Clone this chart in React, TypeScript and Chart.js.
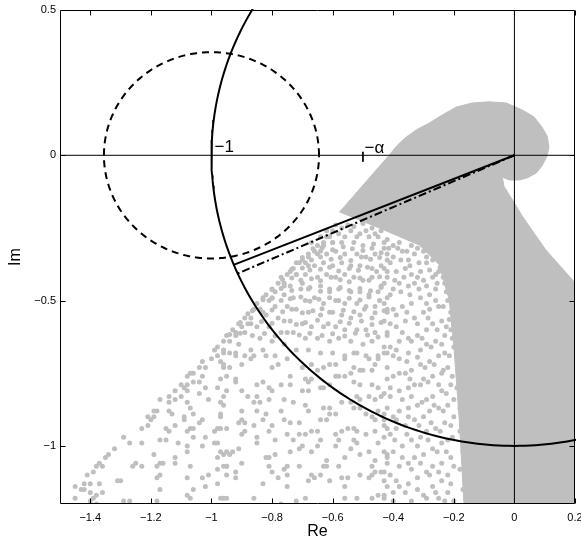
import React, { useEffect, useRef } from 'react';
import { Chart, registerables } from 'chart.js';

Chart.register(...registerables);

const FONT = '"Liberation Sans", Arial, Helvetica, sans-serif';
const GRAY = 'rgb(191,191,191)';

// ---- axes ----
const xRange = [-1.5, 0.2];
const yRange = [-1.2, 0.5];
const xTicks = [-1.4, -1.2, -1, -0.8, -0.6, -0.4, -0.2, 0, 0.2];
const yTicks = [-1, -0.5, 0, 0.5];
const xTitle = 'Re';
const yTitle = 'Im';

// ---- reference geometry ----
const unitCircle = { cx: 0, cy: 0, r: 1 };
const dashedCircle = { cx: -1, cy: 0, r: 0.355 };
const solidRay = [[0, 0], [-0.927, -0.377]];
const dashDotRay = [[0, 0], [-0.914, -0.407]];
const alphaTick = [[-0.5, 0.012], [-0.5, -0.022]];
const realAxis = [[-1.5, 0], [0.2, 0]];
const imagAxis = [[0, -1.2], [0, 0.5]];
const annotationText = ['−1', '−α'];
const annotationX = [-0.99, -0.495];
const annotationY = [0.011, 0.008];

// ---- dense part of the point cloud (outline) ----
const denseRegion = [
  [-0.413, 0.001], [-0.386, 0.035], [-0.357, 0.063], [-0.32, 0.09], [-0.281, 0.111],
  [-0.238, 0.139], [-0.192, 0.166], [-0.139, 0.18], [-0.083, 0.184], [-0.027, 0.18],
  [0.026, 0.156], [0.065, 0.132], [0.091, 0.097], [0.108, 0.066], [0.114, 0.029],
  [0.108, -0.002], [0.091, -0.037], [0.072, -0.061], [0.042, -0.078], [0.016, -0.085],
  [-0.017, -0.085], [-0.04, -0.075], [-0.034, -0.108], [-0.006, -0.154], [0.027, -0.211],
  [0.065, -0.268], [0.104, -0.326], [0.197, -0.435], [0.21, -0.435], [0.21, -1.21],
  [-0.166, -1.21], [-0.182, -0.911], [-0.199, -0.67], [-0.215, -0.498], [-0.248, -0.377],
  [-0.314, -0.309], [-0.446, -0.25], [-0.577, -0.195], [-0.413, 0.001],
];

// ---- individual points of the sparse part of the cloud ----
const sparsePoints = [
  [-0.95,-0.62],[-0.98,-0.66],[-0.99,-0.67],[-0.96,-0.64],[-0.98,-0.69],[-0.94,-0.68],[-1.00,-0.70],[-1.02,-0.73],[-1.03,-0.71],[-1.04,-0.73],[-1.06,-0.75],[-1.07,-0.75],[-1.08,-0.76],[-1.03,-0.76],[-1.04,-0.78],[-1.06,-0.78],[-1.08,-0.79],[-1.09,-0.80],[-1.10,-0.79],[-1.12,-0.81],[-1.10,-0.83],[-1.12,-0.84],[-1.14,-0.85],[-1.14,-0.83],[-1.17,-0.84],[-1.18,-0.88],[-1.19,-0.90],[-1.20,-0.91],[-1.21,-0.90],[-1.21,-0.93],[-1.23,-0.94],[-1.19,-0.88],[-0.97,-0.71],[-0.96,-0.73],[-0.97,-0.77],[-0.95,-0.76],[-0.98,-0.80],[-1.01,-0.84],[-1.02,-0.80],[-1.04,-0.82],[-1.08,-0.81],[-1.08,-0.85],[-1.07,-0.87],[-1.06,-0.89],[-1.04,-0.92],[-1.03,-0.91],[-1.06,-0.94],[-1.07,-0.94],[-1.08,-0.95],[-1.09,-0.91],[-1.09,-0.90],[-1.13,-0.89],[-1.14,-0.88],[-1.12,-0.93],[-1.14,-0.95],[-1.15,-0.94],[-1.17,-0.98],[-1.15,-0.98],[-1.11,-0.99],[-1.08,-1.00],[-1.08,-1.02],[-1.06,-0.97],[-1.03,-1.00],[-1.02,-0.97],[-0.99,-0.99],[-0.98,-0.99],[-0.97,-0.94],[-0.98,-0.94],[-0.99,-0.95],[-0.97,-0.90],[-0.96,-0.86],[-0.96,-0.83],[-0.97,-1.02],[-0.98,-1.04],[-0.96,-1.03],[-0.95,-1.07],[-0.98,-1.08],[-1.01,-1.10],[-1.03,-1.11],[-1.02,-1.14],[-0.98,-1.13],[-0.95,-1.10],[-1.07,-1.07],[-1.08,-1.11],[-1.06,-1.15],[-1.08,-1.17],[-1.07,-1.18],[-1.12,-1.04],[-1.12,-1.06],[-1.16,-1.06],[-1.17,-1.06],[-1.19,-1.03],[-1.18,-1.07],[-1.18,-1.11],[-1.17,-1.10],[-1.17,-1.15],[-1.18,-1.19],[-1.23,-1.07],[-1.26,-1.07],[-1.25,-1.06],[-1.27,-0.99],[-1.29,-0.97],[-1.23,-0.99],[-1.32,-1.01],[-1.34,-1.03],[-1.35,-1.04],[-1.37,-1.06],[-1.38,-1.07],[-1.39,-1.09],[-1.41,-1.10],[-1.42,-1.13],[-1.45,-1.14],[-1.43,-1.15],[-1.42,-1.15],[-1.40,-1.13],[-1.40,-1.16],[-1.39,-1.18],[-1.38,-1.17],[-1.36,-1.16],[-1.37,-1.13],[-1.36,-1.07],[-1.45,-1.18],[-1.40,-1.19],[-1.38,-1.20],[-1.29,-1.19],[-1.27,-1.19],[-1.31,-1.12],[-1.30,-1.12],[-0.97,-1.18],[-0.95,-1.18],
  [-0.96,-0.68],[-0.92,-0.68],[-0.89,-0.69],[-0.87,-0.70],[-0.86,-0.69],[-0.82,-0.69],[-0.90,-0.72],[-0.96,-0.72],[-0.94,-0.73],[-0.80,-0.73],[-0.78,-0.72],[-0.70,-0.73],[-0.83,-0.78],[-0.85,-0.79],[-0.81,-0.80],[-0.80,-0.81],[-0.77,-0.79],[-0.74,-0.79],[-0.74,-0.76],[-0.67,-0.77],[-0.68,-0.78],[-0.92,-0.77],[-0.92,-0.78],[-0.95,-0.81],[-0.90,-0.81],[-0.88,-0.83],[-0.85,-0.83],[-0.84,-0.85],[-0.81,-0.84],[-0.76,-0.84],[-0.70,-0.81],[-0.68,-0.81],[-0.69,-0.86],[-0.68,-0.88],[-0.73,-0.85],[-0.86,-0.85],[-0.85,-0.88],[-0.90,-0.88],[-0.97,-0.85],[-0.97,-0.89],[-0.91,-0.92],[-0.90,-0.91],[-0.89,-0.92],[-0.86,-0.93],[-0.83,-0.91],[-0.82,-0.89],[-0.77,-0.88],[-0.76,-0.91],[-0.80,-0.93],[-0.81,-0.95],[-0.79,-0.98],[-0.85,-0.97],[-0.85,-0.99],[-0.90,-0.96],[-0.89,-0.95],[-0.95,-0.94],[-0.74,-0.92],[-0.71,-0.92],[-0.75,-0.96],[-0.73,-0.98],[-0.71,-0.96],[-0.69,-0.96],[-0.67,-0.95],[-0.65,-0.95],[-0.64,-0.98],[-0.65,-1.00],[-0.67,-1.02],[-0.71,-1.01],[-0.70,-1.00],[-0.74,-1.02],[-0.79,-1.03],[-0.81,-1.04],[-0.82,-1.04],[-0.91,-1.01],[-0.93,-1.02],[-0.95,-1.02],[-0.94,-1.03],[-0.96,-1.07],[-0.95,-1.07],[-0.90,-1.06],[-0.92,-1.09],[-0.92,-1.11],[-0.81,-1.07],[-0.80,-1.09],[-0.76,-1.08],[-0.75,-1.07],[-0.71,-1.07],[-0.67,-1.10],[-0.64,-1.10],[-0.63,-1.07],[-0.62,-1.07],[-0.75,-1.10],[-0.75,-1.14],[-0.83,-1.13],[-0.78,-1.11],[-0.68,-1.12],[-0.66,-1.11],[-0.96,-1.18],[-0.86,-1.18],[-0.69,-1.18],[-0.72,-1.19],[-0.77,-1.20],[-0.62,-0.91],[-0.61,-0.89],[-0.59,-0.89],[-0.59,-0.96],[-0.58,-0.98],[-0.59,-1.00],[-0.57,-0.95],[-0.55,-0.94],[-0.53,-0.94],[-0.52,-0.95],[-0.53,-0.98],[-0.52,-0.99],[-0.49,-0.96],[-0.46,-0.95],[-0.43,-0.93],[-0.42,-0.94],[-0.45,-0.99],[-0.48,-1.02],[-0.43,-1.02],[-0.42,-1.04],[-0.46,-1.05],[-0.47,-1.07],[-0.51,-1.03],[-0.54,-1.01],[-0.56,-1.04],[-0.58,-1.07],[-0.62,-1.05],[-0.61,-1.12],[-0.57,-1.11],[-0.55,-1.11],[-0.56,-1.14],[-0.51,-1.10],[-0.48,-1.11],[-0.47,-1.10],[-0.46,-1.09],[-0.43,-1.09],[-0.45,-1.17],[-0.43,-1.17],[-0.47,-1.18],[-0.52,-1.18],[-0.56,-1.18],[-0.43,-1.12],[-0.42,-0.68],[-0.45,-0.69],[-0.46,-0.72],[-0.47,-0.74],[-0.49,-0.69],[-0.53,-0.68],[-0.56,-0.70],[-0.59,-0.72],[-0.61,-0.72],[-0.63,-0.73],[-0.65,-0.74],[-0.67,-0.72],[-0.69,-0.77],[-0.64,-0.80],[-0.63,-0.80],[-0.61,-0.79],[-0.59,-0.76],[-0.58,-0.76],[-0.56,-0.76],[-0.54,-0.75],[-0.53,-0.73],[-0.51,-0.74],[-0.50,-0.74],[-0.51,-0.79],[-0.53,-0.78],[-0.52,-0.83],[-0.51,-0.84],[-0.48,-0.83],[-0.46,-0.84],[-0.43,-0.82],[-0.47,-0.79],[-0.45,-0.80],[-0.57,-0.85],[-0.54,-0.85],[-0.53,-0.87],[-0.51,-0.87],[-0.61,-0.87],[-0.63,-0.87],[-0.64,-0.91],[-0.47,-0.90],[-0.43,-0.89],[-0.49,-0.89],[-0.46,-0.91],[-0.45,-0.88],
  [-0.59,-0.24],[-0.62,-0.26],[-0.64,-0.28],[-0.61,-0.28],[-0.58,-0.27],[-0.54,-0.26],[-0.51,-0.27],[-0.48,-0.28],[-0.45,-0.28],[-0.42,-0.29],[-0.67,-0.30],[-0.63,-0.31],[-0.60,-0.30],[-0.57,-0.30],[-0.53,-0.30],[-0.50,-0.31],[-0.47,-0.32],[-0.43,-0.32],[-0.68,-0.34],[-0.65,-0.34],[-0.62,-0.34],[-0.59,-0.33],[-0.56,-0.34],[-0.52,-0.34],[-0.49,-0.35],[-0.46,-0.34],[-0.42,-0.36],[-0.72,-0.37],[-0.69,-0.37],[-0.66,-0.38],[-0.63,-0.37],[-0.60,-0.38],[-0.57,-0.37],[-0.54,-0.38],[-0.51,-0.38],[-0.47,-0.39],[-0.44,-0.38],[-0.42,-0.40],[-0.74,-0.40],[-0.72,-0.41],[-0.69,-0.41],[-0.65,-0.42],[-0.62,-0.41],[-0.59,-0.42],[-0.56,-0.41],[-0.53,-0.42],[-0.50,-0.43],[-0.47,-0.42],[-0.43,-0.44],[-0.76,-0.44],[-0.74,-0.45],[-0.70,-0.44],[-0.68,-0.46],[-0.64,-0.45],[-0.61,-0.47],[-0.58,-0.46],[-0.54,-0.47],[-0.51,-0.47],[-0.48,-0.48],[-0.45,-0.47],[-0.42,-0.49],[-0.79,-0.47],[-0.76,-0.48],[-0.73,-0.49],[-0.69,-0.50],[-0.66,-0.49],[-0.63,-0.51],[-0.59,-0.50],[-0.56,-0.51],[-0.52,-0.51],[-0.49,-0.52],[-0.46,-0.52],[-0.42,-0.53],[-0.81,-0.50],[-0.79,-0.52],[-0.75,-0.52],[-0.72,-0.53],[-0.68,-0.54],[-0.64,-0.55],[-0.61,-0.54],[-0.57,-0.55],[-0.54,-0.56],[-0.51,-0.55],[-0.47,-0.56],[-0.43,-0.57],[-0.84,-0.53],[-0.82,-0.55],[-0.78,-0.56],[-0.74,-0.57],[-0.70,-0.58],[-0.67,-0.59],[-0.63,-0.59],[-0.59,-0.59],[-0.56,-0.60],[-0.52,-0.60],[-0.49,-0.60],[-0.46,-0.61],[-0.42,-0.61],[-0.87,-0.56],[-0.85,-0.59],[-0.81,-0.59],[-0.77,-0.61],[-0.73,-0.61],[-0.69,-0.63],[-0.65,-0.63],[-0.61,-0.64],[-0.58,-0.63],[-0.54,-0.64],[-0.50,-0.65],[-0.47,-0.64],[-0.43,-0.66],[-0.90,-0.59],[-0.89,-0.61],[-0.84,-0.63],[-0.80,-0.64],[-0.76,-0.65],[-0.72,-0.67],[-0.68,-0.67],[-0.64,-0.68],[-0.60,-0.68],[-0.56,-0.69],[-0.52,-0.68],[-0.48,-0.70],[-0.45,-0.70],[-0.92,-0.61],[-0.94,-0.64],[-0.91,-0.65],[-0.87,-0.67],[-0.83,-0.67],[-0.79,-0.69],[-0.75,-0.70],[-0.96,-0.67],[-0.92,-0.69],
  [-0.93,-0.60],[-0.91,-0.58],[-0.89,-0.56],[-0.88,-0.545],[-0.86,-0.53],[-0.85,-0.51],[-0.83,-0.49],[-0.82,-0.48],[-0.80,-0.46],[-0.78,-0.44],[-0.77,-0.42],[-0.75,-0.41],[-0.73,-0.39],[-0.71,-0.37],[-0.70,-0.36],[-0.68,-0.35],[-0.66,-0.33],[-0.65,-0.31],[-0.63,-0.30],[-0.62,-0.28],[-0.60,-0.26],[-0.57,-0.25],[-0.55,-0.24],[-0.53,-0.245],[-0.50,-0.235],[-0.47,-0.25],
  [-0.92,-0.62],[-0.88,-0.58],[-0.84,-0.53],[-0.80,-0.49],[-0.76,-0.45],[-0.72,-0.41],[-0.68,-0.38],[-0.64,-0.33],[-0.60,-0.30],[-0.56,-0.28],[-0.52,-0.28],[-0.49,-0.26],[-0.46,-0.27],[-0.44,-0.26],
  [-0.665,-0.322],[-0.635,-0.318],[-0.600,-0.325],[-0.565,-0.315],[-0.535,-0.322],[-0.500,-0.328],[-0.465,-0.305],[-0.440,-0.335],
  [-0.700,-0.352],[-0.670,-0.360],[-0.640,-0.350],[-0.605,-0.358],[-0.575,-0.352],[-0.540,-0.362],[-0.505,-0.350],[-0.475,-0.358],[-0.445,-0.352],
  [-0.735,-0.392],[-0.700,-0.388],[-0.675,-0.395],[-0.640,-0.392],[-0.610,-0.385],[-0.580,-0.398],[-0.545,-0.390],[-0.515,-0.396],[-0.485,-0.385],[-0.455,-0.400],
  [-0.765,-0.428],[-0.735,-0.422],[-0.705,-0.430],[-0.670,-0.425],[-0.640,-0.432],[-0.605,-0.420],[-0.575,-0.428],[-0.545,-0.435],[-0.510,-0.422],[-0.480,-0.430],[-0.445,-0.418],
  [-0.800,-0.462],[-0.770,-0.458],[-0.735,-0.465],[-0.705,-0.460],[-0.675,-0.455],[-0.640,-0.468],[-0.610,-0.460],[-0.575,-0.455],[-0.545,-0.465],[-0.510,-0.458],[-0.475,-0.466],[-0.440,-0.455],
  [-0.830,-0.497],[-0.800,-0.492],[-0.770,-0.500],[-0.740,-0.494],[-0.705,-0.488],[-0.675,-0.502],[-0.645,-0.495],[-0.610,-0.490],[-0.580,-0.500],[-0.545,-0.492],[-0.510,-0.498],[-0.480,-0.488],[-0.445,-0.500],
  [-0.865,-0.535],[-0.830,-0.540],[-0.800,-0.532],[-0.765,-0.538],[-0.735,-0.530],[-0.700,-0.542],[-0.665,-0.535],[-0.635,-0.528],[-0.600,-0.540],[-0.565,-0.533],[-0.530,-0.538],[-0.495,-0.530],[-0.460,-0.542],[-0.430,-0.535],
  [-0.905,-0.575],[-0.870,-0.580],[-0.835,-0.572],[-0.800,-0.578],[-0.760,-0.570],[-0.720,-0.582],[-0.690,-0.575],[-0.650,-0.568],[-0.615,-0.580],[-0.575,-0.573],[-0.545,-0.578],[-0.505,-0.570],[-0.470,-0.582],[-0.440,-0.575],
  [-0.940,-0.617],[-0.905,-0.612],[-0.865,-0.620],[-0.825,-0.613],[-0.790,-0.622],[-0.750,-0.610],[-0.710,-0.618],[-0.675,-0.612],[-0.635,-0.620],[-0.600,-0.614],[-0.560,-0.622],[-0.525,-0.612],[-0.485,-0.618],[-0.450,-0.625],
  [-0.43,-0.30],[-0.40,-0.31],[-0.38,-0.30],[-0.42,-0.34],[-0.40,-0.35],[-0.37,-0.33],[-0.34,-0.31],[-0.33,-0.34],[-0.35,-0.36],[-0.30,-0.33],[-0.28,-0.31],[-0.26,-0.34],[-0.29,-0.37],[-0.31,-0.40],[-0.34,-0.41],[-0.36,-0.39],[-0.39,-0.40],[-0.42,-0.42],[-0.44,-0.45],[-0.40,-0.46],[-0.38,-0.44],[-0.35,-0.45],[-0.33,-0.44],[-0.30,-0.43],[-0.27,-0.42],[-0.25,-0.40],[-0.23,-0.37],[-0.23,-0.44],[-0.26,-0.46],[-0.28,-0.48],[-0.31,-0.49],[-0.34,-0.51],[-0.37,-0.52],[-0.40,-0.53],[-0.42,-0.54],[-0.41,-0.58],[-0.39,-0.59],[-0.36,-0.57],[-0.33,-0.56],[-0.30,-0.54],[-0.28,-0.53],[-0.25,-0.52],[-0.22,-0.50],[-0.21,-0.54],[-0.24,-0.57],[-0.27,-0.58],[-0.29,-0.60],[-0.32,-0.62],[-0.35,-0.63],[-0.38,-0.64],[-0.41,-0.66],[-0.43,-0.68],[-0.40,-0.69],[-0.38,-0.70],[-0.35,-0.68],[-0.31,-0.67],[-0.29,-0.65],[-0.26,-0.64],[-0.23,-0.62],[-0.21,-0.60],[-0.20,-0.66],[-0.23,-0.68],[-0.25,-0.69],[-0.28,-0.71],[-0.31,-0.72],[-0.34,-0.74],[-0.36,-0.75],[-0.40,-0.76],[-0.42,-0.77],[-0.44,-0.83],[-0.41,-0.83],[-0.38,-0.81],[-0.35,-0.80],[-0.33,-0.79],[-0.30,-0.77],[-0.27,-0.76],[-0.24,-0.75],[-0.22,-0.73],[-0.21,-0.79],[-0.24,-0.81],[-0.27,-0.83],[-0.29,-0.84],[-0.32,-0.86],[-0.35,-0.87],[-0.38,-0.88],[-0.40,-0.90],[-0.43,-0.91],[-0.41,-0.96],[-0.39,-0.94],[-0.36,-0.93],[-0.33,-0.91],[-0.30,-0.90],[-0.28,-0.88],[-0.25,-0.87],[-0.22,-0.86],[-0.20,-0.90],[-0.23,-0.92],[-0.26,-0.94],[-0.29,-0.95],[-0.31,-0.97],[-0.34,-0.98],[-0.37,-1.00],[-0.40,-1.02],[-0.42,-1.03],[-0.44,-1.09],[-0.41,-1.10],[-0.38,-1.07],[-0.35,-1.06],[-0.33,-1.04],[-0.30,-1.03],[-0.27,-1.01],[-0.24,-0.99],[-0.22,-0.98],[-0.21,-1.04],[-0.24,-1.06],[-0.27,-1.07],[-0.29,-1.09],[-0.32,-1.11],[-0.35,-1.13],[-0.38,-1.14],[-0.40,-1.16],[-0.43,-1.18],[-0.40,-1.19],[-0.34,-1.19],[-0.30,-1.17],[-0.27,-1.14],[-0.24,-1.12],[-0.22,-1.10],[-0.23,-1.19],[-0.25,-1.18],
  [-0.19,-0.55],[-0.19,-0.62],[-0.18,-0.72],[-0.19,-0.80],[-0.18,-0.87],[-0.18,-0.95],[-0.17,-1.02],[-0.18,-1.08],[-0.17,-1.15],[-0.21,-0.45],
  [-0.415,-0.32],[-0.385,-0.32],[-0.355,-0.33],[-0.32,-0.32],[-0.29,-0.35],[-0.27,-0.36],[-0.245,-0.385],[-0.41,-0.37],[-0.375,-0.36],[-0.345,-0.38],[-0.315,-0.37],[-0.28,-0.395],[-0.26,-0.41],[-0.235,-0.42],[-0.215,-0.43],[-0.43,-0.39],[-0.395,-0.43],[-0.365,-0.42],[-0.32,-0.42],[-0.29,-0.45],[-0.255,-0.44],[-0.225,-0.47],[-0.41,-0.48],[-0.375,-0.47],[-0.345,-0.48],[-0.315,-0.46],[-0.29,-0.51],[-0.26,-0.50],[-0.235,-0.52],[-0.215,-0.565],[-0.43,-0.51],[-0.39,-0.55],[-0.355,-0.54],[-0.32,-0.58],[-0.285,-0.56],[-0.255,-0.6],[-0.225,-0.59],[-0.205,-0.63],[-0.42,-0.62],[-0.37,-0.61],[-0.34,-0.64],[-0.305,-0.63],[-0.275,-0.66],[-0.24,-0.65],[-0.215,-0.69],[-0.39,-0.67],[-0.355,-0.71],[-0.32,-0.695],[-0.295,-0.73],[-0.265,-0.72],[-0.235,-0.74],[-0.205,-0.76],[-0.42,-0.73],[-0.38,-0.75],[-0.345,-0.77],[-0.31,-0.79],[-0.285,-0.78],[-0.25,-0.79],[-0.225,-0.82],[-0.2,-0.84],[-0.41,-0.80],[-0.37,-0.84],[-0.34,-0.83],[-0.305,-0.85],[-0.265,-0.86],[-0.235,-0.88],[-0.21,-0.93],[-0.42,-0.87],[-0.39,-0.91],[-0.35,-0.90],[-0.315,-0.93],[-0.275,-0.92],[-0.245,-0.95],[-0.205,-0.97],[-0.43,-0.97],[-0.395,-0.98],[-0.355,-0.96],[-0.32,-1.00],[-0.285,-0.98],[-0.255,-1.02],[-0.225,-1.02],[-0.2,-1.07],[-0.42,-1.06],[-0.37,-1.04],[-0.34,-1.08],[-0.31,-1.06],[-0.28,-1.10],[-0.25,-1.09],[-0.21,-1.13],[-0.42,-1.14],[-0.39,-1.12],[-0.36,-1.16],[-0.32,-1.15],[-0.29,-1.18],[-0.26,-1.16],[-0.22,-1.16],[-0.2,-1.19],
];

const toXY = (arr: number[][]) => arr.map(([x, y]) => ({ x, y }));
const circleXY = (c: { cx: number; cy: number; r: number }) => {
  const pts: { x: number; y: number }[] = [];
  for (let i = 0; i <= 360; i++) {
    const t = (i * Math.PI) / 180;
    pts.push({ x: c.cx + c.r * Math.cos(t), y: c.cy + c.r * Math.sin(t) });
  }
  return pts;
};
const fmt = (v: number) => {
  const a = Math.round(Math.abs(v) * 100) / 100;
  return (v < -1e-9 ? '−' : '') + String(a);
};

const framePlugin = {
  id: 'matlabFrame',
  afterDatasetsDraw(chart: any) {
    const { ctx, chartArea: a, scales } = chart;
    const xs = scales.x;
    const ys = scales.y;
    const L = Math.round(a.left) + 0.5;
    const R = Math.round(a.right) - 0.5;
    const T = Math.round(a.top) + 0.5;
    const B = Math.round(a.bottom) - 0.5;
    ctx.save();
    ctx.strokeStyle = '#000';
    ctx.lineWidth = 1;
    ctx.beginPath();
    ctx.rect(L, T, R - L, B - T);
    const tl = 5;
    xTicks.forEach((v) => {
      const p = Math.round(xs.getPixelForValue(v)) + 0.5;
      ctx.moveTo(p, B); ctx.lineTo(p, B - tl);
      ctx.moveTo(p, T); ctx.lineTo(p, T + tl);
    });
    yTicks.forEach((v) => {
      const p = Math.round(ys.getPixelForValue(v)) + 0.5;
      ctx.moveTo(L, p); ctx.lineTo(L + tl, p);
      ctx.moveTo(R, p); ctx.lineTo(R - tl, p);
    });
    ctx.stroke();
    ctx.fillStyle = '#000';
    ctx.font = `17px ${FONT}`;
    ctx.textBaseline = 'alphabetic';
    ctx.textAlign = 'left';
    annotationText.forEach((t, i) => {
      ctx.fillText(t, xs.getPixelForValue(annotationX[i]), ys.getPixelForValue(annotationY[i]));
    });
    ctx.restore();
  },
};

export default function App() {
  const ref = useRef<HTMLCanvasElement>(null);
  useEffect(() => {
    const lineDs = (data: any[], width: number, dash: number[] = [], order = 1) => ({
      data,
      showLine: true,
      borderColor: '#000',
      borderWidth: width,
      borderDash: dash,
      pointRadius: 0,
      fill: false,
      tension: 0,
      order,
      clip: 1,
    });
    const chart = new Chart(ref.current as HTMLCanvasElement, {
      type: 'line',
      data: {
        datasets: [
          lineDs(toXY(realAxis), 1, [], 2),
          lineDs(toXY(imagAxis), 1, [], 2),
          lineDs(toXY(alphaTick), 1, [], 2),
          lineDs(circleXY(unitCircle), 2, [], 1),
          lineDs(circleXY(dashedCircle), 2, [7, 5], 1),
          lineDs(toXY(solidRay), 2, [], 1),
          lineDs(toXY(dashDotRay), 2, [8, 3, 2, 3], 1),
          {
            data: toXY(sparsePoints),
            showLine: false,
            pointRadius: 2.5,
            pointBorderWidth: 0,
            pointBackgroundColor: GRAY,
            pointBorderColor: GRAY,
            order: 5,
            clip: 0,
          } as any,
          {
            data: toXY(denseRegion),
            showLine: true,
            borderColor: GRAY,
            borderWidth: 1,
            backgroundColor: GRAY,
            fill: 'shape',
            pointRadius: 0,
            tension: 0,
            order: 6,
            clip: 0,
          } as any,
        ],
      },
      options: {
        responsive: false,
        animation: false,
        devicePixelRatio: 1,
        events: [],
        layout: { padding: { left: 0, right: 6, top: 10, bottom: 0 } },
        plugins: { legend: { display: false }, tooltip: { enabled: false } },
        scales: {
          x: {
            type: 'linear',
            min: xRange[0],
            max: xRange[1],
            grid: { display: false, drawTicks: false },
            border: { display: false },
            afterBuildTicks: (s: any) => { s.ticks = xTicks.map((v) => ({ value: v })); },
            afterFit: (s: any) => { s.height = 37; s.paddingLeft = 0; s.paddingRight = 0; },
            ticks: {
              color: '#000',
              font: { family: FONT, size: 11 },
              padding: 7,
              maxRotation: 0,
              autoSkip: false,
              callback: (v: any) => fmt(Number(v)),
            },
            title: { display: true, text: xTitle, color: '#000', font: { family: FONT, size: 16 }, padding: { top: 0, bottom: 0 } },
          },
          y: {
            type: 'linear',
            min: yRange[0],
            max: yRange[1],
            grid: { display: false, drawTicks: false },
            border: { display: false },
            afterBuildTicks: (s: any) => { s.ticks = yTicks.map((v) => ({ value: v })); },
            afterFit: (s: any) => { s.width = 60; s.paddingTop = 0; s.paddingBottom = 0; },
            ticks: {
              color: '#000',
              font: { family: FONT, size: 11 },
              padding: 4,
              autoSkip: false,
              callback: (v: any) => fmt(Number(v)),
            },
            title: { display: true, text: yTitle, color: '#000', font: { family: FONT, size: 16 }, padding: { top: 6, bottom: 0 } },
          },
        },
      } as any,
      plugins: [framePlugin],
    });
    return () => chart.destroy();
  }, []);
  return (
    <div style={{ position: 'fixed', left: 0, top: 0, width: 581, height: 541, background: '#fff' }}>
      <canvas ref={ref} width={581} height={541} style={{ display: 'block', width: 581, height: 541 }} />
    </div>
  );
}
